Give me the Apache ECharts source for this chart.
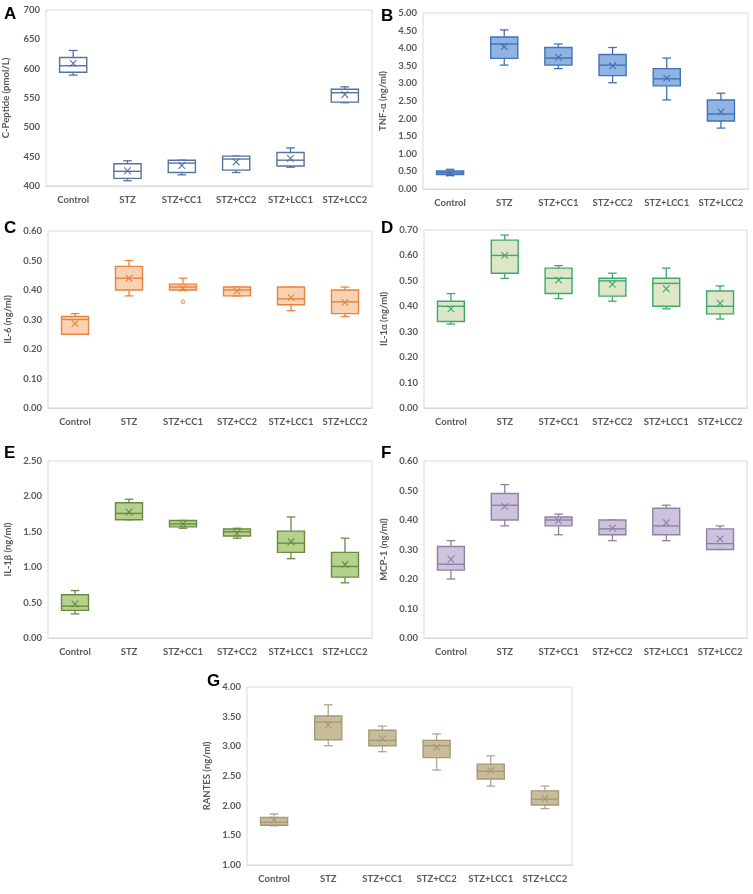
<!DOCTYPE html>
<html>
<head>
<meta charset="utf-8">
<script src="https://cdn.jsdelivr.net/npm/echarts@6/dist/echarts.min.js"></script>
<style>
html,body{margin:0;padding:0;background:#fff;}
#chart{width:753px;height:894px;}
</style>
</head>
<body>
<div id="chart"></div>
<script>
// categories
const categories = ['Control','STZ','STZ+CC1','STZ+CC2','STZ+LCC1','STZ+LCC2'];

// each row: [min, Q1, median, Q3, max, mean]
const cPeptideBox = [
  [589, 594, 605, 619, 631, 609],
  [409, 413, 425, 438, 443, 426],
  [419, 423, 439, 444, 444, 435],
  [423, 427, 446, 451, 451, 441],
  [432, 434, 444, 457, 465, 447],
  [542, 543, 559, 565, 569, 556]
];
const tnfBox = [
  [0.38, 0.41, 0.46, 0.51, 0.56, 0.45],
  [3.52, 3.71, 4.12, 4.32, 4.52, 4.04],
  [3.42, 3.52, 3.72, 4.02, 4.12, 3.74],
  [3.02, 3.22, 3.52, 3.82, 4.02, 3.50],
  [2.53, 2.93, 3.13, 3.42, 3.72, 3.15],
  [1.73, 1.93, 2.13, 2.53, 2.72, 2.19]
];
const il6Box = [
  [0.25, 0.25, 0.30, 0.31, 0.32, 0.286],
  [0.38, 0.40, 0.44, 0.48, 0.50, 0.44],
  [0.40, 0.40, 0.41, 0.42, 0.44, 0.406],
  [0.38, 0.38, 0.40, 0.41, 0.41, 0.396],
  [0.33, 0.35, 0.37, 0.41, 0.41, 0.374],
  [0.31, 0.32, 0.36, 0.40, 0.41, 0.358]
];
const il6Outliers = [[2, 0.36]];
const il1aBox = [
  [0.33, 0.34, 0.40, 0.42, 0.45, 0.39],
  [0.51, 0.53, 0.60, 0.66, 0.68, 0.60],
  [0.43, 0.45, 0.51, 0.55, 0.56, 0.503],
  [0.42, 0.44, 0.50, 0.51, 0.53, 0.486],
  [0.39, 0.40, 0.49, 0.51, 0.55, 0.469],
  [0.35, 0.37, 0.40, 0.46, 0.48, 0.412]
];
const il1bBox = [
  [0.34, 0.39, 0.45, 0.61, 0.67, 0.48],
  [1.67, 1.67, 1.76, 1.91, 1.96, 1.78],
  [1.55, 1.57, 1.61, 1.66, 1.66, 1.61],
  [1.41, 1.44, 1.50, 1.54, 1.55, 1.48],
  [1.12, 1.21, 1.34, 1.51, 1.71, 1.36],
  [0.78, 0.86, 1.01, 1.21, 1.41, 1.04]
];
const mcp1Box = [
  [0.20, 0.23, 0.25, 0.31, 0.33, 0.267],
  [0.38, 0.40, 0.45, 0.49, 0.52, 0.446],
  [0.35, 0.38, 0.40, 0.41, 0.42, 0.398],
  [0.33, 0.35, 0.37, 0.40, 0.40, 0.372],
  [0.33, 0.35, 0.38, 0.44, 0.45, 0.391],
  [0.30, 0.30, 0.32, 0.37, 0.38, 0.336]
];
const rantesBox = [
  [1.66, 1.67, 1.72, 1.80, 1.86, 1.76],
  [3.01, 3.11, 3.41, 3.51, 3.70, 3.36],
  [2.91, 3.01, 3.10, 3.27, 3.34, 3.13],
  [2.60, 2.81, 3.01, 3.10, 3.21, 2.98],
  [2.33, 2.45, 2.58, 2.70, 2.84, 2.59],
  [1.95, 2.01, 2.11, 2.25, 2.33, 2.12]
];

const panelLetters = ['A','B','C','D','E','F','G'];
const axisNames = ['C-Peptide (pmol/L)','TNF-α (ng/ml)','IL-6 (ng/ml)','IL-1α (ng/ml)','IL-1β (ng/ml)','MCP-1 (ng/ml)','RANTES (ng/ml)'];
const yMins = [400, 0, 0, 0, 0, 0, 1];
const yMaxs = [700, 5, 0.6, 0.7, 2.5, 0.6, 4];
const yIntervals = [50, 0.5, 0.1, 0.1, 0.5, 0.1, 0.5];
const yDecimals = [0, 2, 2, 2, 2, 2, 2];

const panelData = [cPeptideBox, tnfBox, il6Box, il1aBox, il1bBox, mcp1Box, rantesBox];

const styles = [
  {fill:'#ffffff', stroke:'#5573a0', whisker:'#5573a0'},
  {fill:'#8fb3e3', stroke:'#4472b6', whisker:'#4472b6'},
  {fill:'#f9d2b4', stroke:'#e8833f', whisker:'#e8833f'},
  {fill:'#dde6c6', stroke:'#3fa86c', whisker:'#3fa86c'},
  {fill:'#b4d28c', stroke:'#6c8943', whisker:'#6c8943'},
  {fill:'#cdc3de', stroke:'#8d82a2', whisker:'#8d82a2'},
  {fill:'#c8bd98', stroke:'#a4997a', whisker:'#b0a78e'}
];

// plot areas [left, top, right, bottom] in pixels
const grids = [
  [46, 10, 372, 186],
  [423, 13, 748, 189],
  [48, 231, 372, 408],
  [424, 230, 747, 408],
  [48, 461, 372, 638],
  [424, 461, 747, 638],
  [247, 687, 572, 865]
];
const letterPos = [[4, 6], [381, 8], [4, 220], [381, 220], [4, 445], [381, 445], [207, 673]];

const W = 753, H = 894;
const labelColor = '#595959';
const fontFam = 'Lato, "Open Sans", sans-serif';

function makeRender(style) {
  return function (params, api) {
    const cat = api.value(0);
    const vMin = api.value(1), q1 = api.value(2), med = api.value(3), q3 = api.value(4), vMax = api.value(5), mean = api.value(6);
    const band = api.size([1, 0])[0];
    const boxW = band * 0.5;
    const capW = boxW * 0.32;
    const cx = api.coord([cat, med])[0];
    const yMin = api.coord([cat, vMin])[1];
    const yQ1 = api.coord([cat, q1])[1];
    const yMed = api.coord([cat, med])[1];
    const yQ3 = api.coord([cat, q3])[1];
    const yMax = api.coord([cat, vMax])[1];
    const yMean = api.coord([cat, mean])[1];
    const ls = {stroke: style.stroke, lineWidth: 1.4, fill: null};
    const ws = {stroke: style.whisker, lineWidth: 1.3, fill: null};
    const children = [];
    if (Math.abs(yMax - yQ3) > 0.5) {
      children.push({type:'line', shape:{x1:cx, y1:yQ3, x2:cx, y2:yMax}, style: ws});
    }
    children.push({type:'line', shape:{x1:cx - capW/2, y1:yMax, x2:cx + capW/2, y2:yMax}, style: ws});
    if (Math.abs(yMin - yQ1) > 0.5) {
      children.push({type:'line', shape:{x1:cx, y1:yQ1, x2:cx, y2:yMin}, style: ws});
    }
    children.push({type:'line', shape:{x1:cx - capW/2, y1:yMin, x2:cx + capW/2, y2:yMin}, style: ws});
    children.push({type:'rect', shape:{x:cx - boxW/2, y:yQ3, width:boxW, height:yQ1 - yQ3},
      style:{fill: style.fill, stroke: style.stroke, lineWidth: 1.4}});
    children.push({type:'line', shape:{x1:cx - boxW/2, y1:yMed, x2:cx + boxW/2, y2:yMed}, style: ls});
    const s = 3.3;
    children.push({type:'line', shape:{x1:cx - s, y1:yMean - s, x2:cx + s, y2:yMean + s}, style: {stroke: style.stroke, lineWidth: 1.1}});
    children.push({type:'line', shape:{x1:cx - s, y1:yMean + s, x2:cx + s, y2:yMean - s}, style: {stroke: style.stroke, lineWidth: 1.1}});
    return {type:'group', children: children};
  };
}

const option = {
  animation: false,
  backgroundColor: '#ffffff',
  grid: [],
  xAxis: [],
  yAxis: [],
  series: [],
  graphic: []
};

for (let i = 0; i < 7; i++) {
  const g = grids[i];
  option.grid.push({left: g[0], top: g[1], width: g[2] - g[0], height: g[3] - g[1],
    show: true, borderColor: '#d9d9d9', borderWidth: 1, backgroundColor: 'transparent'});
  option.xAxis.push({
    type: 'category', gridIndex: i, data: categories,
    axisLine: {show: true, lineStyle: {color: '#d9d9d9'}},
    axisTick: {show: false},
    axisLabel: {color: labelColor, fontWeight: 'bold', fontSize: 9.5, fontFamily: fontFam, margin: 9, interval: 0},
    splitLine: {show: false}
  });
  const dec = yDecimals[i];
  option.yAxis.push({
    type: 'value', gridIndex: i, min: yMins[i], max: yMaxs[i], interval: yIntervals[i],
    name: axisNames[i], nameLocation: 'middle', nameGap: 35,
    nameTextStyle: {color: labelColor, fontWeight: 'bold', fontSize: 9.5, fontFamily: fontFam},
    axisLine: {show: false}, axisTick: {show: false}, splitLine: {show: false},
    axisLabel: {color: labelColor, fontWeight: 'bold', fontSize: 9.5, fontFamily: fontFam, margin: 6,
      formatter: function (v) { return v.toFixed(dec); }}
  });
  option.series.push({
    type: 'custom', xAxisIndex: i, yAxisIndex: i,
    renderItem: makeRender(styles[i]),
    encode: {x: 0, y: [1, 2, 3, 4, 5, 6]},
    data: panelData[i].map(function (r, k) { return [k].concat(r); }),
    clip: false
  });
  option.graphic.push({
    type: 'text', left: letterPos[i][0], top: letterPos[i][1],
    style: {text: panelLetters[i], fill: '#000', font: 'bold 17px "Liberation Sans", Arial, sans-serif'}
  });
}

option.series.push({
  type: 'scatter', xAxisIndex: 2, yAxisIndex: 2,
  data: il6Outliers, symbol: 'circle', symbolSize: 4,
  itemStyle: {color: '#fbe2cf', borderColor: '#e8833f', borderWidth: 1}
});

const chart = echarts.init(document.getElementById('chart'), null, {renderer: 'canvas', width: W, height: H});
chart.setOption(option);
</script>
</body>
</html>
